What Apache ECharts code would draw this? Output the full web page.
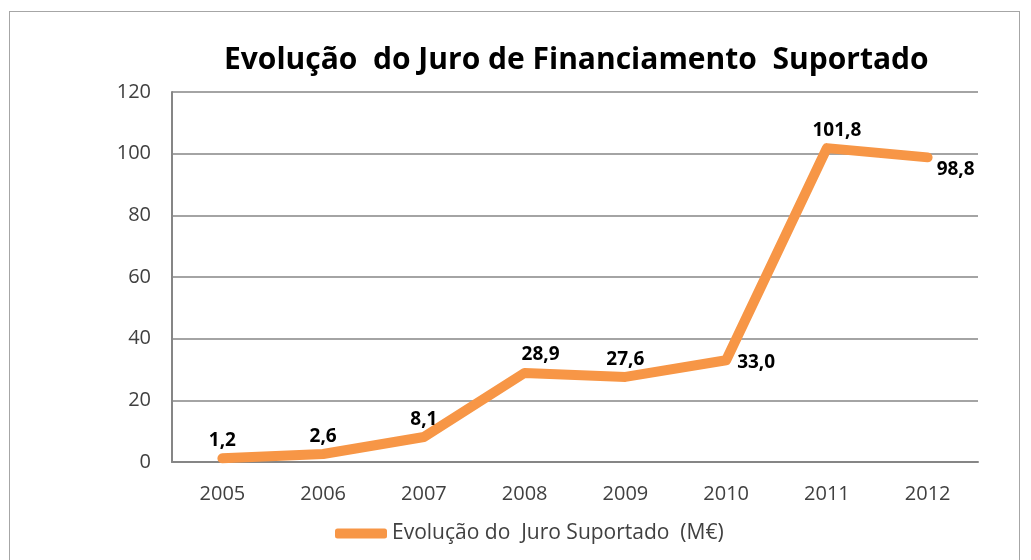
<!DOCTYPE html>
<html>
<head>
<meta charset="utf-8">
<script src="https://cdn.jsdelivr.net/npm/echarts@6/dist/echarts.min.js"></script>
<style>
  html, body { margin: 0; padding: 0; background: #fff; }
  #frame { position: absolute; left: 9px; top: 11px; width: 1011px; height: 560px; border: 1px solid #a6a6a6; box-sizing: border-box; }
  #chart { position: absolute; left: 0; top: 0; width: 1031px; height: 560px; }
</style>
</head>
<body>
<div id="frame"></div>
<div id="chart"></div>
<script>
// anos
const years = ['2005', '2006', '2007', '2008', '2009', '2010', '2011', '2012'];
// juro suportado (M€)
const juro = [1.2, 2.6, 8.1, 28.9, 27.6, 33.0, 101.8, 98.8];
const seriesName = 'Evolução do  Juro Suportado  (M€)';

const font = '"Open Sans", "DejaVu Sans", sans-serif';
// rótulos que não ficam por cima do ponto
const labelTweaks = {
    3: { offset: [16, -1] },
    6: { offset: [10, 0] },
    5: { position: 'right', distance: 10, offset: [0, 2] },
    7: { position: 'right', distance: 8, offset: [0, 12] }
};
let mychart = echarts.init(document.getElementById('chart'));
mychart.setOption({
    animation: false,
    title: {
        text: 'Evolução  do Juro de Financiamento  Suportado',
        left: 219,
        top: 40,
        textStyle: { fontFamily: font, fontSize: 30, fontWeight: 'bold', color: '#000' }
    },
    legend: {
        top: 518,
        left: 330,
        itemWidth: 52,
        itemHeight: 10,
        itemGap: 14,
        icon: 'roundRect',
        textStyle: { fontFamily: font, fontSize: 21, color: '#404040' },
        data: [seriesName]
    },
    grid: { left: 172, right: 53, top: 92, bottom: 98 },
    xAxis: {
        type: 'category',
        data: years,
        boundaryGap: true,
        axisTick: { show: false },
        axisLine: { lineStyle: { color: '#868686', width: 2 } },
        axisLabel: { fontFamily: font, fontSize: 20, color: '#404040', margin: 22 }
    },
    yAxis: {
        type: 'value',
        min: 0,
        max: 120,
        interval: 20,
        axisLine: { show: true, lineStyle: { color: '#868686', width: 2 } },
        axisTick: { show: false },
        splitLine: { lineStyle: { color: '#868686', width: 1.5 } },
        axisLabel: { fontFamily: font, fontSize: 20, color: '#404040', margin: 21 }
    },
    series: [{
        name: seriesName,
        type: 'line',
        data: juro.map((v, i) => ({
            value: v,
            label: labelTweaks[i] || {}
        })),
        symbol: 'circle',
        symbolSize: 2,
        lineStyle: { color: '#F79646', width: 10, cap: 'round', join: 'round' },
        itemStyle: { color: '#F79646' },
        label: {
            show: true,
            position: 'top',
            fontFamily: font,
            fontSize: 19,
            fontWeight: 'bold',
            color: '#000',
            distance: 7,
            formatter: p => p.value.toFixed(1).replace('.', ',')
        }
    }]
});
window.addEventListener('resize', () => { mychart.resize(); });
</script>
</body>
</html>
